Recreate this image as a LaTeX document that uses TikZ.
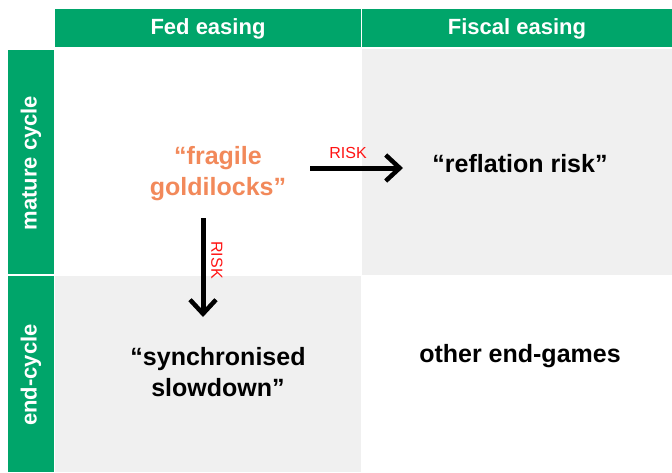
\documentclass[tikz,border=0pt]{standalone}
\usepackage{fontspec}
\setmainfont{Liberation Sans}
\usetikzlibrary{arrows.meta}
\definecolor{hdrgreen}{RGB}{0,165,106}
\definecolor{cellgray}{RGB}{240,240,240}
\definecolor{goldorange}{RGB}{242,137,90}
\definecolor{riskred}{RGB}{255,20,20}
\tikzset{
  hdrtext/.style={text=white, font=\bfseries\fontsize{22}{26}\selectfont},
  celltext/.style={font=\bfseries\fontsize{25}{31}\selectfont, align=center},
  risklabel/.style={text=riskred, font=\fontsize{16}{18}\selectfont, inner sep=1pt},
  riskarrow/.style={line width=5pt, -{Straight Barb[length=14pt,width=26pt,line width=4.5pt]}}
}
\begin{document}
\begin{tikzpicture}[x=1pt,y=-1pt]
\useasboundingbox (0,0) rectangle (672,472);
\fill[white] (0,0) rectangle (672,472);
% cells
\fill[cellgray] (362,49) rectangle (672,275);
\fill[cellgray] (55,276) rectangle (361,472);
% headers
\fill[hdrgreen] (55,9) rectangle (361,47);
\fill[hdrgreen] (362,9) rectangle (672,47);
\node[hdrtext] (fed) at (208,29) {Fed easing};
\node[hdrtext] (fiscal) at (517,29) {Fiscal easing};
% side
\fill[hdrgreen] (8,50) rectangle (54,274);
\fill[hdrgreen] (8,276) rectangle (54,472);
\node[hdrtext, rotate=90] (mature) at (31,163) {mature cycle};
\node[hdrtext, rotate=90] (endc) at (31,375) {end-cycle};
% cell texts
\node[celltext, text=goldorange] (gold) at (218,174) {“fragile\\goldilocks”};
\node[celltext] (refl) at (520,164) {“reflation risk”};
\node[celltext] (sync) at (218,372) {“synchronised\\slowdown”};
\node[celltext] (other) at (520,356) {other end-games};
% arrows
\coordinate (hs) at (310,168);
\coordinate (he) at (403,168);
\draw[riskarrow] (hs) -- (he);
\node[risklabel] (r1) at (348,153) {RISK};
\coordinate (vs) at (203,218);
\coordinate (ve) at (203,317);
\draw[riskarrow] (vs) -- (ve);
\node[risklabel, rotate=-90] (r2) at (217,260) {RISK};
\end{tikzpicture}
\end{document}
